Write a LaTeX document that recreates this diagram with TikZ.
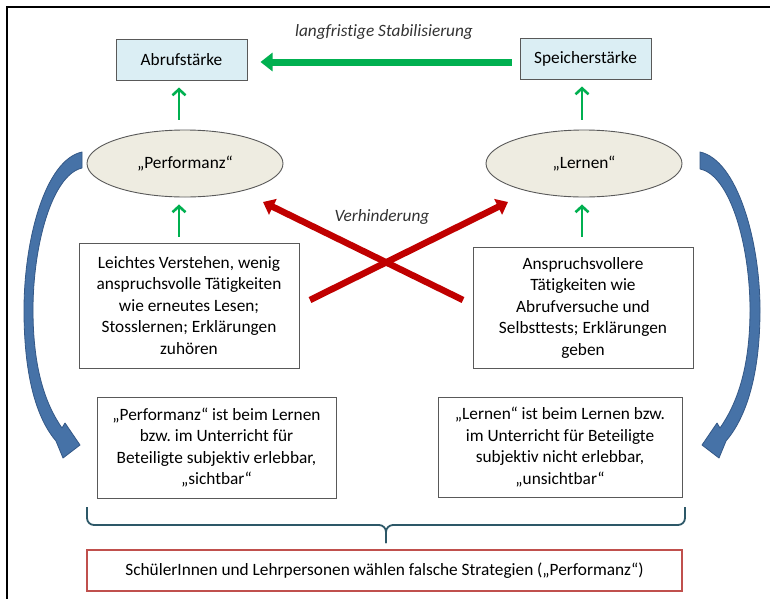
\documentclass[tikz,border=0pt]{standalone}
\usepackage{fontspec}
\setmainfont{Carlito}[Ligatures={NoCommon}]
\frenchspacing
\usetikzlibrary{arrows.meta,shapes.geometric,calc}
\definecolor{boxblue}{RGB}{219,238,244}
\definecolor{ellfill}{RGB}{238,236,225}
\definecolor{gridgray}{RGB}{89,89,89}
\definecolor{ggreen}{RGB}{0,176,80}
\definecolor{rred}{RGB}{192,0,0}
\definecolor{boxred}{RGB}{192,80,77}
\definecolor{bluefill}{RGB}{70,114,167}
\definecolor{blueline}{RGB}{52,88,135}
\definecolor{bracecol}{RGB}{45,88,104}
\tikzset{
  txt/.style={font=\fontsize{17.3}{21.5}\selectfont, align=center, inner sep=0pt},
  topbox/.style={txt, draw=gridgray, line width=1pt, fill=boxblue, minimum width=131pt, minimum height=41pt},
  ellnode/.style={txt, ellipse, draw=gridgray, line width=0.9pt, fill=ellfill, minimum width=196pt, minimum height=67pt},
  textbox/.style={txt, draw=gridgray, line width=1pt, fill=white},
  garrow/.style={draw=ggreen, line width=2.6pt, -{Straight Barb[length=6pt,width=13pt,line width=2.6pt]}},
  gthick/.style={draw=ggreen, line width=7pt, -{Triangle[length=12pt,width=18pt]}},
  rarrow/.style={draw=rred, line width=6.5pt, -{Triangle[length=11pt,width=17pt]}},
  bluearrow/.style={fill=bluefill, draw=blueline, line width=0.8pt, line join=round},
  lbl/.style={font=\fontsize{17.3}{21.5}\selectfont\itshape, inner sep=0pt, text=black!80}
}
\begin{document}
\begin{tikzpicture}[x=1pt,y=-1pt]
\useasboundingbox (0,0) rectangle (770,598);
\fill[white] (0,0) rectangle (770,598);
% outer frame (partly visible)
\draw[line width=1.8pt, black] (7,600) -- (7,7) -- (772,7);

% top boxes
\node[topbox] (abruf) at (181.5,59.5) {Abrufstärke};
\node[topbox] (speicher) at (585.5,58.5) {Speicherstärke};
\node[lbl] (stab) at (384,32) {langfristige Stabilisierung};

% ellipses
\node[ellnode] (perf) at (185,163.5) {„Performanz“};
\node[ellnode] (lern) at (584,163.5) {„Lernen“};

% activity boxes
\node[textbox, minimum width=220pt, minimum height=125pt] (b1) at (189,305.5)
  {Leichtes Verstehen, wenig\\anspruchsvolle Tätigkeiten\\wie erneutes Lesen;\\Stosslernen; Erklärungen\\zuhören};
\node[textbox, minimum width=220pt, minimum height=121pt] (b2) at (583,307.5)
  {Anspruchsvollere\\Tätigkeiten wie\\Abrufversuche und\\Selbsttests; Erklärungen\\geben};

% visibility boxes
\node[textbox, minimum width=239pt, minimum height=101pt] (b3) at (216.5,447.5)
  {„Performanz“ ist beim Lernen\\bzw. im Unterricht für\\Beteiligte subjektiv erlebbar,\\„sichtbar“};
\node[textbox, minimum width=244pt, minimum height=100pt] (b4) at (560,447)
  {„Lernen“ ist beim Lernen bzw.\\im Unterricht für Beteiligte\\subjektiv nicht erlebbar,\\„unsichtbar“};

% conclusion box
\node[txt, draw=boxred, line width=2.6pt, minimum width=595pt, minimum height=41pt] (concl) at (384.5,570.5)
  {SchülerInnen und Lehrpersonen wählen falsche Strategien („Performanz“)};

% green arrows
\draw[gthick, shorten <=8pt, shorten >=13pt] ([yshift=-3.5pt]speicher.west) -- ([yshift=-3.5pt]speicher.west -| abruf.east);
\draw[garrow, shorten <=10pt, shorten >=7pt] ([xshift=-6pt]perf.north) -- ([xshift=-6pt]perf.north |- abruf.south);
\draw[garrow, shorten <=10pt, shorten >=7pt] ([xshift=-2pt]lern.north) -- ([xshift=-2pt]lern.north |- speicher.south);
\draw[garrow, shorten <=6pt, shorten >=7pt] ([xshift=-6pt]perf.south |- b1.north) -- ([xshift=-6pt]perf.south);
\draw[garrow, shorten <=10pt, shorten >=7pt] ([xshift=-2pt]lern.south |- b2.north) -- ([xshift=-2pt]lern.south);

% red cross
\coordinate (r1s) at (310,300);
\coordinate (r1e) at (508,202);
\coordinate (r2s) at (463,300);
\coordinate (r2e) at (263,202);
\draw[rarrow] (r1s) -- (r1e);
\draw[rarrow] (r2s) -- (r2e);
\node[lbl] (verh) at (382,217) {Verhinderung};

% blue curved arrows
\path[bluearrow] (82,152) .. controls (45,160) and (24,240) .. (24,310)
  .. controls (24,380) and (38,420) .. (56,441) -- (63,458) -- (80,445) -- (65,423) -- (62,428)
  .. controls (46,405) and (33,370) .. (33,310)
  .. controls (33,245) and (52,175) .. (82,168) -- cycle;
\path[bluearrow] (700,152) .. controls (737,160) and (760,240) .. (760,310)
  .. controls (760,380) and (744,420) .. (726,441) -- (719,458) -- (702,445) -- (717,423) -- (720,428)
  .. controls (736,405) and (750,370) .. (750,310)
  .. controls (750,245) and (730,175) .. (700,169) -- cycle;

% brace
\draw[bracecol, line width=1.8pt, rounded corners=7pt] (87,507) -- (87,525) -- (386,525) -- (386,543);
\draw[bracecol, line width=1.8pt, rounded corners=7pt] (685,507) -- (685,525) -- (386,525) -- (386,543);
\end{tikzpicture}
\end{document}
